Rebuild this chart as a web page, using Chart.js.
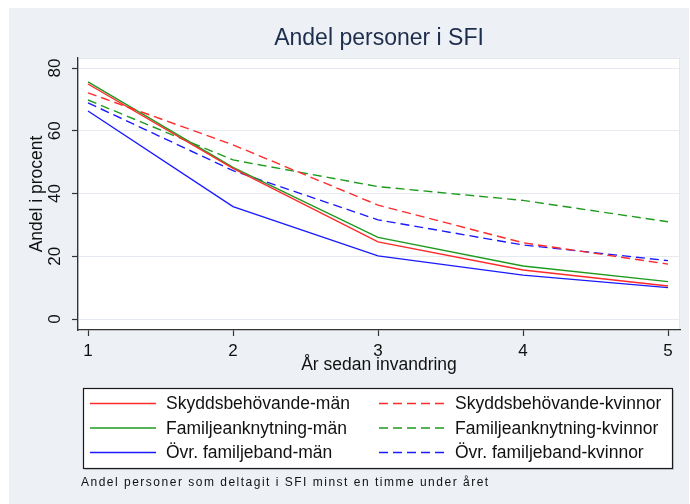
<!DOCTYPE html>
<html>
<head>
<meta charset="utf-8">
<title>Andel personer i SFI</title>
<script src="https://cdn.jsdelivr.net/npm/chart.js@4/dist/chart.umd.min.js"></script>
<style>
  html, body { margin: 0; padding: 0; background: #fff; }
  canvas { display: block; }
</style>
</head>
<body>
<canvas id="sfiChart" width="690" height="504"></canvas>
<script>
// Andel personer i SFI per år sedan invandring (Stata-liknande figur)

const years = [1, 2, 3, 4, 5];
const yTicks = [0, 20, 40, 60, 80];

const skyddMan = [74.9, 48.0, 24.6, 15.6, 10.5];
const skyddKvinnor = [72.1, 55.5, 36.3, 24.3, 17.5];
const famMan = [75.6, 48.3, 26.0, 16.9, 11.9];
const famKvinnor = [69.8, 50.7, 42.2, 37.8, 31.0];
const ovrMan = [66.3, 35.8, 20.1, 14.0, 10.0];
const ovrKvinnor = [68.9, 47.3, 31.6, 23.6, 18.6];

const seriesNames = [
  "Skyddsbehövande-män", "Skyddsbehövande-kvinnor",
  "Familjeanknytning-män", "Familjeanknytning-kvinnor",
  "Övr. familjeband-män", "Övr. familjeband-kvinnor",
];
const footnote = "Andel personer som deltagit i SFI minst en timme under året";

const FONT = "'Liberation Sans', Arial, Helvetica, sans-serif";
const RED = "#ff2a2a", GREEN = "#1e9a1e", BLUE = "#1a1aff";
const DASH = [9, 5];

Chart.defaults.font.family = FONT;
Chart.defaults.color = "#111";

function line(label, values, color, dashed) {
  return {
    label,
    data: years.map((x, i) => ({ x, y: values[i] })),
    borderColor: color,
    backgroundColor: color,
    borderWidth: 1.4,
    borderDash: dashed ? DASH : [],
    pointRadius: 0,
    tension: 0,
    fill: false,
  };
}

const datasets = [
  line(seriesNames[0], skyddMan, RED, false),
  line(seriesNames[1], skyddKvinnor, RED, true),
  line(seriesNames[2], famMan, GREEN, false),
  line(seriesNames[3], famKvinnor, GREEN, true),
  line(seriesNames[4], ovrMan, BLUE, false),
  line(seriesNames[5], ovrKvinnor, BLUE, true),
];

// grå bakgrund + vit plotyta
const backdrop = {
  id: "backdrop",
  beforeDraw(chart) {
    const { ctx, chartArea: a } = chart;
    ctx.save();
    ctx.fillStyle = "#fff";
    ctx.fillRect(0, 0, chart.width, chart.height);
    ctx.fillStyle = "#edf0f5";
    ctx.fillRect(9, 8, 680, 496);
    ctx.fillStyle = "#fff";
    ctx.fillRect(a.left, a.top, a.right - a.left, a.bottom - a.top);
    ctx.strokeStyle = "#e3e8ee";
    ctx.lineWidth = 1;
    ctx.strokeRect(a.left + 0.5, a.top + 0.5, a.right - a.left - 1, a.bottom - a.top - 1);
    ctx.restore();
  },
};

// legend i ruta med två kolumner + fotnot
const boxLegend = {
  id: "boxLegend",
  afterDraw(chart) {
    const ctx = chart.ctx;
    const box = { x: 83, y: 388, w: 589, h: 80 };
    ctx.save();
    ctx.fillStyle = "#c9ced6";
    ctx.fillRect(box.x + 2, box.y + 2, box.w, box.h);
    ctx.fillStyle = "#fff";
    ctx.fillRect(box.x, box.y, box.w, box.h);
    ctx.strokeStyle = "#1a1a1a";
    ctx.lineWidth = 1.2;
    ctx.strokeRect(box.x + 0.5, box.y + 0.5, box.w, box.h);

    const cols = [{ x0: 90, x1: 156, tx: 166 }, { x0: 379, x1: 445, tx: 455 }];
    ctx.font = "17.5px " + FONT;
    ctx.textBaseline = "middle";
    ctx.textAlign = "left";
    chart.data.datasets.forEach((ds, i) => {
      const c = cols[i % 2];
      const y = 403.5 + Math.floor(i / 2) * 24.5;
      ctx.strokeStyle = ds.borderColor;
      ctx.lineWidth = 1.4;
      ctx.setLineDash(ds.borderDash || []);
      ctx.beginPath();
      ctx.moveTo(c.x0, y);
      ctx.lineTo(c.x1, y);
      ctx.stroke();
      ctx.setLineDash([]);
      ctx.fillStyle = "#111";
      ctx.fillText(ds.label, c.tx, y + 1);
    });

    ctx.font = "12px " + FONT;
    ctx.letterSpacing = "1.5px";
    ctx.fillStyle = "#111";
    ctx.fillText(footnote, 81, 483);
    ctx.restore();
  },
};

new Chart(document.getElementById("sfiChart"), {
  type: "line",
  data: { datasets },
  options: {
    responsive: false,
    animation: false,
    devicePixelRatio: 1,
    layout: { padding: { top: 0, left: 0, right: 10, bottom: 124 } },
    plugins: {
      legend: { display: false },
      tooltip: { enabled: false },
      title: {
        display: true,
        text: "Andel personer i SFI",
        fullSize: false,
        color: "#1d2d4c",
        font: { size: 23, weight: "normal" },
        padding: { top: 24.6, bottom: 5.8 },
      },
    },
    scales: {
      x: {
        type: "linear",
        min: 1 - 10 / 145,
        max: 5 + 12 / 145,
        afterBuildTicks: s => { s.ticks = years.map(v => ({ value: v })); },
        afterFit: s => { s.height = 50; },
        ticks: { color: "#111", font: { size: 17 }, padding: 4.8 },
        grid: { drawOnChartArea: false, drawTicks: true, tickLength: 6, tickColor: "#333", tickWidth: 1.2 },
        border: { display: true, color: "#333", width: 1.3 },
        title: {
          display: true,
          text: "År sedan invandring",
          color: "#111",
          font: { size: 17.5 },
          padding: { top: 0, bottom: 4 },
        },
      },
      y: {
        type: "linear",
        min: -11 / 3.1375,
        max: 80 + 10 / 3.1375,
        afterBuildTicks: s => { s.ticks = yTicks.map(v => ({ value: v })); },
        afterFit: s => { s.width = 78; },
        ticks: {
          color: "#111",
          font: { size: 17 },
          minRotation: 90,
          maxRotation: 90,
          crossAlign: "center",
          padding: 7.5,
        },
        grid: { color: "#e4eaf0", lineWidth: 1, drawTicks: true, tickLength: 6, tickColor: "#333", tickWidth: 1.2 },
        border: { display: true, color: "#333", width: 1.3 },
        title: {
          display: true,
          text: "Andel i procent",
          color: "#111",
          font: { size: 17.5 },
          padding: { top: 26.5, bottom: 0 },
        },
      },
    },
  },
  plugins: [backdrop, boxLegend],
});
</script>
</body>
</html>
